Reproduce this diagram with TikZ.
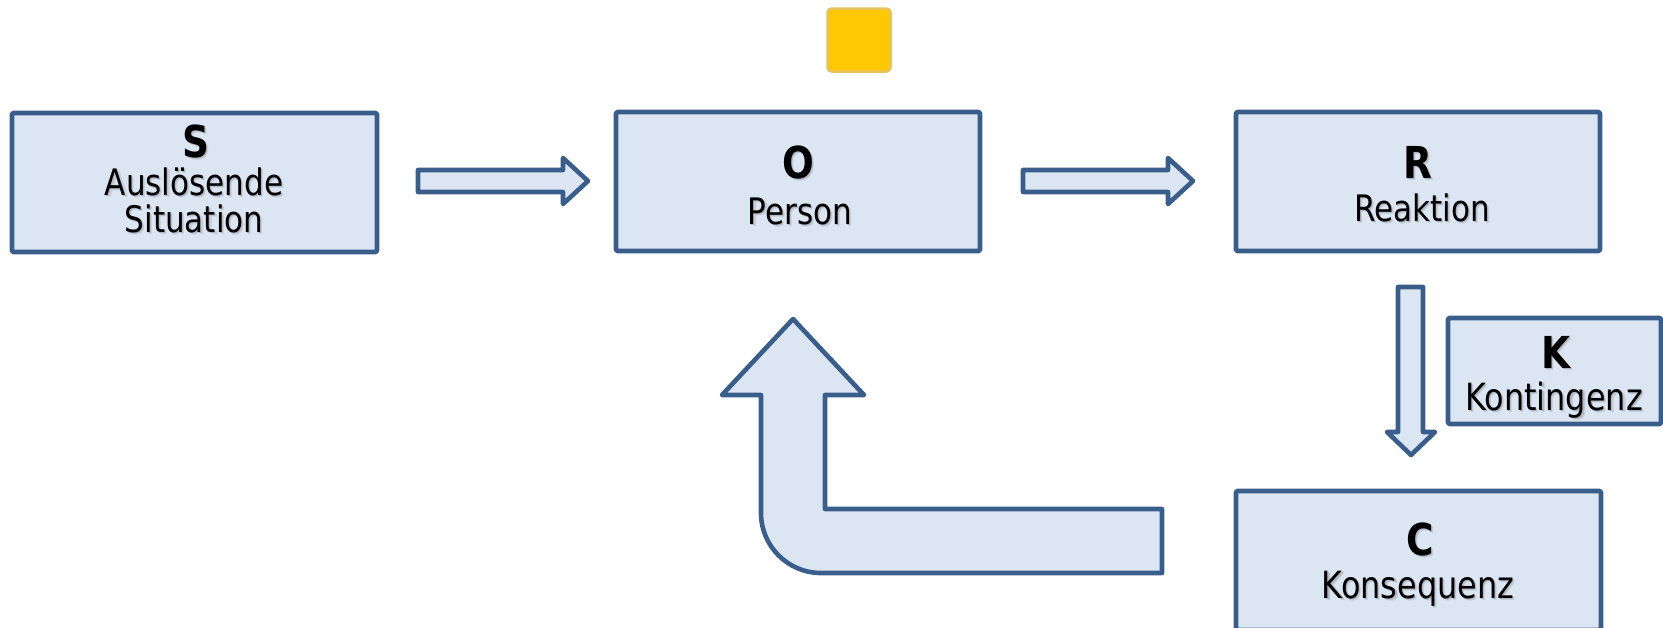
\documentclass[tikz,border=0pt]{standalone}
\usepackage{fontspec}
\setmainfont{DejaVu Sans}[FakeStretch=0.85]
\usetikzlibrary{calc}

\definecolor{boxfill}{HTML}{DCE6F2}
\definecolor{boxline}{HTML}{3A5E8C}
\definecolor{gold}{HTML}{FFC800}
\definecolor{goldline}{HTML}{E8C35A}
\definecolor{shadowfar}{HTML}{C6CED9}
\definecolor{shadownear}{HTML}{AEB6C2}

% text with a soft drop shadow below right
\newcommand\txtshadow[1]{\leavevmode
  \rlap{\kern2.2pt\raisebox{-2.2pt}{\color{shadowfar}#1}}%
  \rlap{\kern1.1pt\raisebox{-1.1pt}{\color{shadownear}#1}}#1}

\begin{document}
\begin{tikzpicture}[x=1pt,y=-1pt,
  box/.style={draw=boxline, fill=boxfill, line width=4.8pt, line join=round,
    rounded corners=1.5pt, inner sep=0pt},
  blockarrow/.style={draw=boxline, fill=boxfill, line width=4.6pt, line join=round},
  title/.style={anchor=base, inner sep=0pt,
    font=\fontsize{44}{48}\selectfont\bfseries},
  caption/.style={anchor=base, inner sep=0pt,
    font=\fontsize{36.5}{40}\selectfont},
  bigcaption/.style={anchor=base, inner sep=0pt,
    font=\fontsize{37.5}{41}\selectfont},
  marker/.style={draw=goldline, fill=gold, line width=2.5pt,
    rounded corners=4pt, minimum size=63pt, inner sep=0pt}]

\useasboundingbox (0,0) rectangle (1663,627);
\clip (0,0) rectangle (1663,627);

% small marker above the person box
\node[marker] (Y) at (859,40) {};

% boxes
\node[box, minimum width=365pt, minimum height=139pt] (S) at (194.5,182.5) {};
\node[box, minimum width=364pt, minimum height=139pt] (O) at (798,181.5) {};
\node[box, minimum width=364pt, minimum height=139pt] (R) at (1418,181.5) {};
\node[box, minimum width=213pt, minimum height=106pt] (K) at (1554.5,371) {};
\node[box, minimum width=365pt, minimum height=139pt] (C) at (1418.5,560.5) {};

% box texts
\node[title]   (S-t)  at (196,157) {\txtshadow{S}};
\node[caption] (S-c1) at (194,195) {\txtshadow{Auslösende}};
\node[caption] (S-c2) at (194,232) {\txtshadow{Situation}};

\node[title]   (O-t)  at (798,178) {\txtshadow{O}};
\node[caption] (O-c)  at (800,224) {\txtshadow{Person}};

\node[title]   (R-t)  at (1418,178) {\txtshadow{R}};
\node[caption] (R-c)  at (1422,221) {\txtshadow{Reaktion}};

\node[title]      (K-t) at (1556,368) {\txtshadow{K}};
\node[bigcaption] (K-c) at (1554,410) {\txtshadow{Kontingenz}};

\node[title]      (C-t) at (1420,555) {\txtshadow{C}};
\node[bigcaption] (C-c) at (1418,598) {\txtshadow{Konsequenz}};

% block arrows
\draw[blockarrow] (418,170) -- (563,170) -- (563,158) -- (588,181)
  -- (563,204) -- (563,192) -- (418,192) -- cycle;
\draw[blockarrow] (1023,170) -- (1168,170) -- (1168,158) -- (1193,181)
  -- (1168,204) -- (1168,192) -- (1023,192) -- cycle;
\draw[blockarrow] (1398,287) -- (1423,287) -- (1423,432) -- (1435,432)
  -- (1411,455) -- (1387,432) -- (1398,432) -- cycle;

% feedback arrow from the consequence back to the person
\draw[blockarrow] (793,319) -- (864,395) -- (825,395) -- (825,509)
  -- (1162,509) -- (1162,573) -- (821,573)
  arc[start angle=90, end angle=180, radius=60]
  -- (761,395) -- (722,395) -- cycle;
\end{tikzpicture}
\end{document}
